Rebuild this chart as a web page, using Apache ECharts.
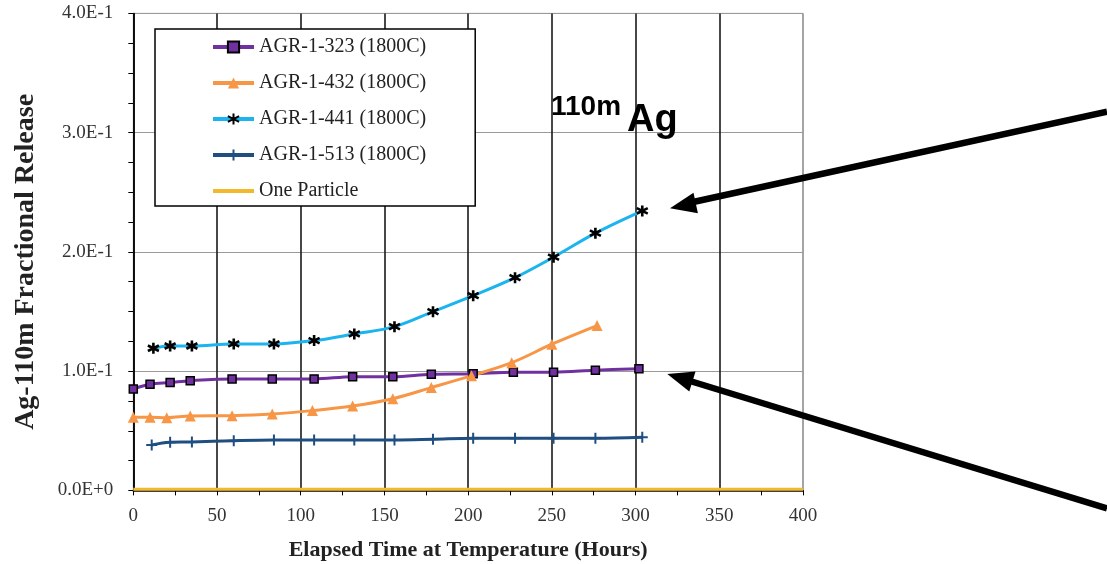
<!DOCTYPE html>
<html>
<head>
<meta charset="utf-8">
<script src="https://cdn.jsdelivr.net/npm/echarts@6/dist/echarts.min.js"></script>
<style>html,body{margin:0;padding:0;background:#fff;}#c{width:1107px;height:564px;}</style>
</head>
<body>
<div id="c"></div>
<script>
// ---- data ----
const seriesNames = ['AGR-1-323 (1800C)', 'AGR-1-432 (1800C)', 'AGR-1-441 (1800C)', 'AGR-1-513 (1800C)', 'One Particle'];

const hours323 = [0, 10, 22, 34, 59, 83, 108, 131, 155, 178, 203, 227, 251, 276, 302];
const vals323  = [0.0851, 0.0890, 0.0904, 0.0920, 0.0935, 0.0935, 0.0935, 0.0954, 0.0954, 0.0974, 0.0978, 0.0991, 0.0991, 0.1008, 0.1021];

const hours432 = [0, 10, 20, 34, 59, 83, 107, 131, 155, 178, 202, 226, 250, 277];
const vals432  = [0.0613, 0.0613, 0.0610, 0.0624, 0.0627, 0.0641, 0.0669, 0.0708, 0.0769, 0.0862, 0.0962, 0.1071, 0.1226, 0.1382];

const hours441 = [12, 22, 35, 60, 84, 108, 132, 156, 179, 203, 228, 251, 276, 304];
const vals441  = [0.1192, 0.1211, 0.1211, 0.1228, 0.1228, 0.1256, 0.1312, 0.1373, 0.1499, 0.1633, 0.1784, 0.1956, 0.2157, 0.2344];

const hours513 = [11, 22, 35, 60, 84, 108, 132, 156, 179, 203, 228, 251, 276, 304];
const vals513  = [0.0381, 0.0404, 0.0406, 0.0417, 0.0423, 0.0423, 0.0423, 0.0423, 0.0429, 0.0437, 0.0437, 0.0437, 0.0437, 0.0445];

const hoursOne = [0, 400];
const valsOne  = [0.001, 0.001];

const yTickLabels = ['0.0E+0', '1.0E-1', '2.0E-1', '3.0E-1', '4.0E-1'];
const xTickLabels = ['0', '50', '100', '150', '200', '250', '300', '350', '400'];

const zip = (xs, ys) => xs.map((x, i) => [x, ys[i]]);

const chart = echarts.init(document.getElementById('c'));
const serif = '"Liberation Serif", "DejaVu Serif", serif';

const asterisk = 'path://M5,0L5,10M0.7,2.5L9.3,7.5M9.3,2.5L0.7,7.5';
const plusSym = 'path://M5,0L5,10M2.5,5L7.5,5';

chart.setOption({
  animation: false,
  backgroundColor: '#fff',
  grid: { left: 133.3, right: 304, top: 13.4, bottom: 73.6, outerBoundsMode: 'none', containLabel: false,
    show: true, borderColor: '#9a9a9a', borderWidth: 1, backgroundColor: '#fff' },
  xAxis: {
    type: 'value', min: 0, max: 400, interval: 50,
    name: 'Elapsed Time at Temperature (Hours)', nameLocation: 'middle', nameGap: 49,
    nameTextStyle: { fontFamily: serif, fontWeight: 'bold', fontSize: 22, color: '#222' },
    axisLine: { show: true, lineStyle: { color: '#000', width: 1.5 } },
    axisTick: { show: true, length: 5, inside: false, lineStyle: { color: '#000', width: 1 } },
    minorTick: { show: true, splitNumber: 2, length: 5, lineStyle: { color: '#000', width: 1 } },
    axisLabel: { margin: 16, fontFamily: serif, fontSize: 19, color: '#333',
      formatter: v => xTickLabels[Math.round(v / 50)] },
    splitLine: { show: true, lineStyle: { color: ['#1a1a1a','#1a1a1a','#1a1a1a','#1a1a1a','#1a1a1a','#1a1a1a','#1a1a1a','#1a1a1a','#9a9a9a'], width: 1.6 } }
  },
  yAxis: {
    type: 'value', min: 0, max: 0.4, interval: 0.1,
    name: 'Ag-110m Fractional Release', nameLocation: 'middle', nameGap: 94,
    nameTextStyle: { fontFamily: serif, fontWeight: 'bold', fontSize: 28, color: '#222', padding: [0, 20, 0, 0] },
    axisLine: { show: true, lineStyle: { color: '#000', width: 1.5 } },
    axisTick: { show: true, length: 5, lineStyle: { color: '#000', width: 1 } },
    minorTick: { show: true, splitNumber: 4, length: 5, lineStyle: { color: '#000', width: 1 } },
    axisLabel: { margin: 20, fontFamily: serif, fontSize: 19, color: '#333',
      formatter: v => yTickLabels[Math.round(v / 0.1)] },
    splitLine: { show: true, lineStyle: { color: '#9a9a9a', width: 1.2 } }
  },
  legend: {
    orient: 'vertical', left: 155, top: 29,
    itemWidth: 41, itemHeight: 14, itemGap: 16,
    padding: [8, 49, 5, 56],
    borderColor: '#000', borderWidth: 1.5, backgroundColor: '#fff',
    lineStyle: { width: 4 },
    textStyle: { fontFamily: serif, fontSize: 20, color: '#222', lineHeight: 20 },
    data: [seriesNames[0], seriesNames[1], seriesNames[2], seriesNames[3],
      { name: seriesNames[4], itemStyle: { opacity: 0 } }]
  },
  series: [
    {
      name: seriesNames[0], type: 'line', data: zip(hours323, vals323), smooth: 0.35,
      symbol: 'rect', symbolSize: 8,
      lineStyle: { color: '#7030A0', width: 3 },
      itemStyle: { color: '#7030A0', borderColor: '#000', borderWidth: 1.5 }
    },
    {
      name: seriesNames[1], type: 'line', data: zip(hours432, vals432), smooth: 0.35,
      symbol: 'triangle', symbolSize: 11,
      lineStyle: { color: '#F79646', width: 3 },
      itemStyle: { color: '#F79646' }
    },
    {
      name: seriesNames[2], type: 'line', data: zip(hours441, vals441), smooth: 0.35,
      symbol: asterisk, symbolSize: 11,
      lineStyle: { color: '#1CB4EE', width: 3 },
      itemStyle: { color: 'rgba(0,0,0,0)', borderColor: '#000', borderWidth: 2.6 }
    },
    {
      name: seriesNames[3], type: 'line', data: zip(hours513, vals513), smooth: 0.35,
      symbol: plusSym, symbolSize: 11,
      lineStyle: { color: '#1F4E80', width: 3 },
      itemStyle: { color: 'rgba(0,0,0,0)', borderColor: '#1F4E80', borderWidth: 2 }
    },
    {
      name: seriesNames[4], type: 'line', data: zip(hoursOne, valsOne),
      symbol: 'none', showSymbol: false,
      lineStyle: { color: '#F2B92C', width: 3 },
      itemStyle: { color: '#F2B92C' }
    }
  ],
  graphic: [
    { type: 'text', left: 551, top: 93, z: 100, style: { text: '110m', font: 'bold 28px "Liberation Sans", Arial, sans-serif', fill: '#000' } },
    { type: 'text', left: 627, top: 102, z: 100, style: { text: 'Ag', font: 'bold 38px "Liberation Sans", Arial, sans-serif', fill: '#000' } },
    { type: 'line', z: 100, shape: { x1: 692, y1: 202.3, x2: 1107, y2: 111.7 }, style: { stroke: '#000', lineWidth: 6.5 } },
    { type: 'polygon', z: 100, shape: { points: [[670, 208.3], [697.9, 213.3], [693.5, 192.8]] }, style: { fill: '#000' } },
    { type: 'line', z: 100, shape: { x1: 690, y1: 381, x2: 1107, y2: 508.3 }, style: { stroke: '#000', lineWidth: 6.5 } },
    { type: 'polygon', z: 100, shape: { points: [[667.3, 374], [689.3, 391.6], [695.5, 371.6]] }, style: { fill: '#000' } }
  ]
});
</script>
</body>
</html>
